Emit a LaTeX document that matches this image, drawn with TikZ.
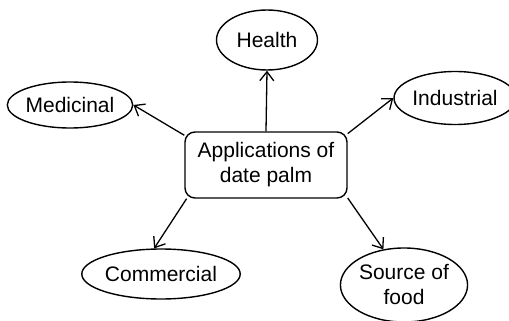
\documentclass[tikz,border=0pt]{standalone}
\usepackage{fontspec}
\setmainfont{Liberation Sans}
\usetikzlibrary{shapes.geometric,arrows.meta}
\tikzset{
    hub/.style={rectangle, draw, rounded corners = 10pt, line width = 1.4pt,
                minimum width = 162pt, minimum height = 66pt, inner sep = 0,
                align = center, font=\fontsize{21}{25}\selectfont},
    leaf/.style={ellipse, draw, line width = 1.4pt, inner sep = 0,
                align = center, font=\fontsize{21}{25}\selectfont},
    spoke/.style={line width = 1.3pt, -{Straight Barb[length=9pt, width=14pt, line width=1.3pt]}},
}

\begin{document}
\begin{tikzpicture}[x=1pt, y=-1pt]
        \useasboundingbox (0,0) rectangle (509,321);
        \node[hub] (App) at (266,165) {Applications of\\date palm};
        %
        % Leaves
        \node[leaf, minimum width = 101pt, minimum height = 60pt] (Hea) at (267,40) {Health};
        \node[leaf, minimum width = 125pt, minimum height = 46pt] (Med) at (70,105) {Medicinal};
        \node[leaf, minimum width = 122pt, minimum height = 53pt] (Ind) at (455,98) {Industrial};
        \node[leaf, minimum width = 158pt, minimum height = 50pt] (Com) at (161,274) {Commercial};
        \node[leaf, minimum width = 124pt, minimum height = 74pt] (Src) at (404,285) {Source of\\food};
        %
        % Arrows
        \draw[spoke] (App.north) -- (Hea.south);
        \draw[spoke] (App.160) -- (Med.east);
        \draw[spoke] (App.21) -- (Ind.west);
        \draw[spoke] (App.203) -- (Com.105);
        \draw[spoke] (App.338) -- (Src.120);
\end{tikzpicture}
\end{document}
